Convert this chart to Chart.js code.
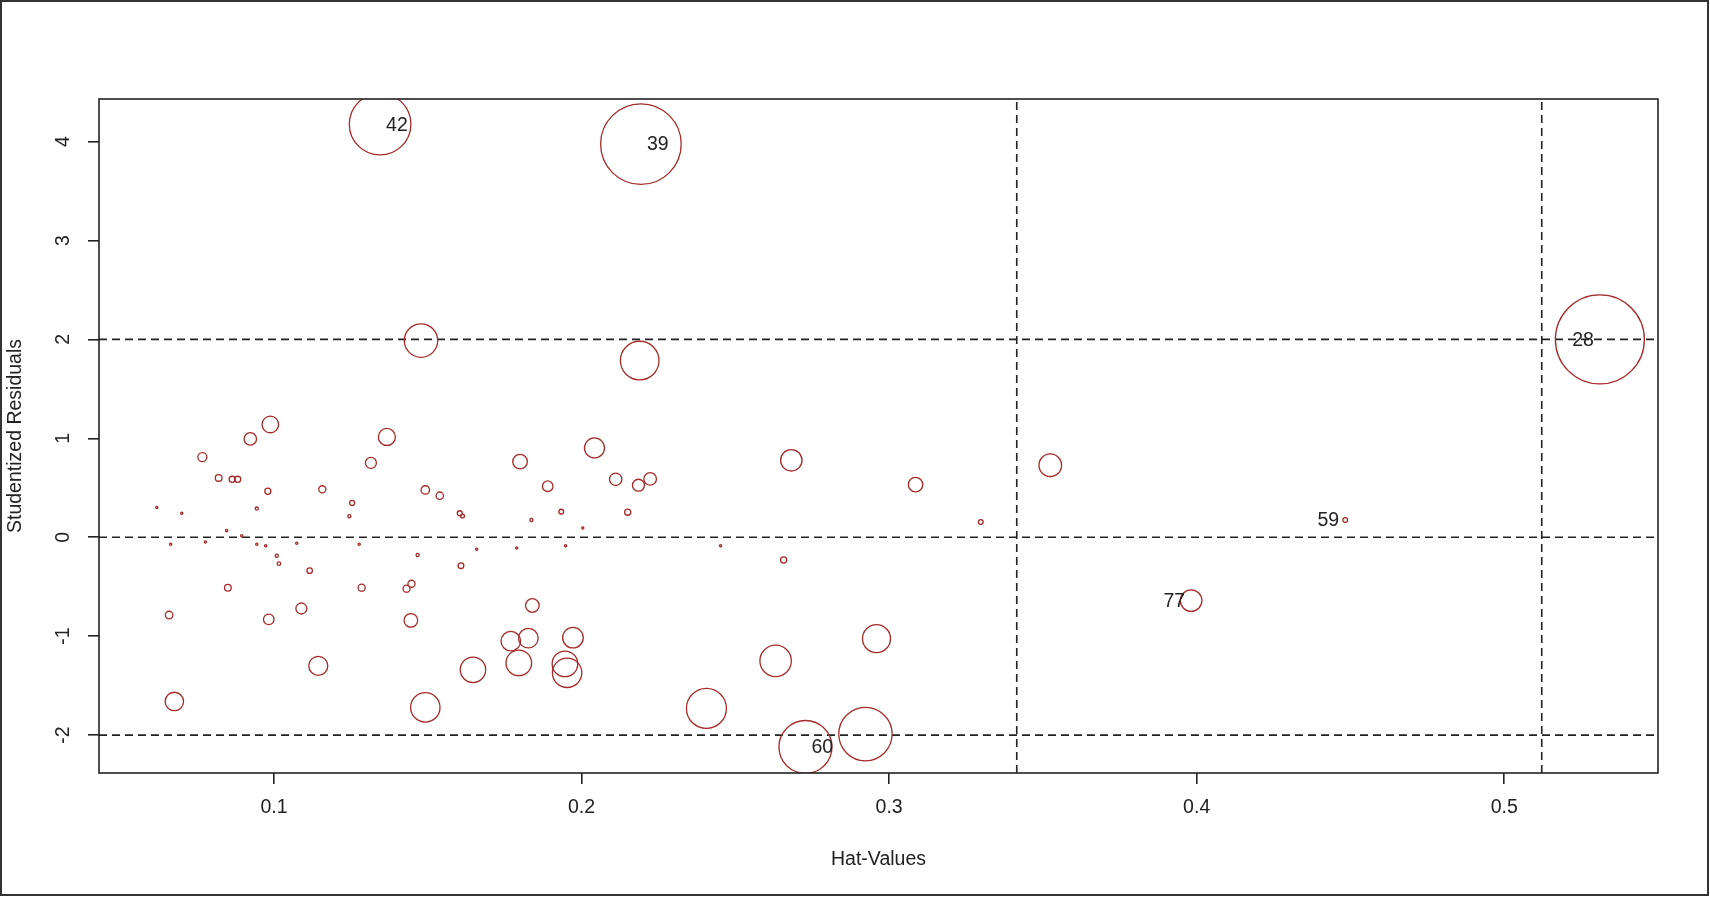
<!DOCTYPE html>
<html>
<head>
<meta charset="utf-8">
<title>Influence plot</title>
<script src="https://cdn.jsdelivr.net/npm/chart.js@4.4.1/dist/chart.umd.min.js"></script>
<style>
  html, body { margin: 0; padding: 0; background: #fff; }
  canvas { display: block; }
</style>
</head>
<body>
<canvas id="influencia" width="1710" height="897" style="width:1710px;height:897px"></canvas>
<script>
// ============================================================
// DATOS
// ============================================================

// hat-values de cada observación
const hatValues = [
  0.0619, 0.0700, 0.0767, 0.0820, 0.0864, 0.0882, 0.0923, 0.0988, 0.0980, 0.0944,
  0.0846, 0.0895, 0.0664, 0.0777, 0.0944, 0.0973, 0.1009, 0.1016, 0.1074, 0.1116,
  0.1157, 0.1254, 0.1245, 0.1277, 0.1315, 0.1367, 0.1467, 0.1492, 0.1539, 0.1604,
  0.1613, 0.1608, 0.1659, 0.1800, 0.1890, 0.1837, 0.1934, 0.1789, 0.1948, 0.2004,
  0.2042, 0.2111, 0.2150, 0.2185, 0.2223, 0.2452, 0.2682, 0.2657, 0.3086, 0.3298,
  0.0850, 0.0659, 0.0983, 0.1089, 0.1285, 0.1431, 0.1447, 0.1445, 0.1144, 0.0676,
  0.1492, 0.1647, 0.1840, 0.1770, 0.1827, 0.1796, 0.1946, 0.1953, 0.1972, 0.2406,
  0.2631, 0.2959, 0.2728, 0.2923, 0.1345, 0.2193, 0.1478, 0.2189, 0.5311, 0.3524,
  0.4483, 0.3982
];

// residuos estudentizados
const studResiduals = [
  0.300, 0.243, 0.810, 0.600, 0.586, 0.586, 0.994, 1.140, 0.465, 0.290,
  0.067, 0.016, -0.071, -0.048, -0.071, -0.085, -0.186, -0.267, -0.061, -0.338,
  0.485, 0.347, 0.212, -0.071, 0.751, 1.014, -0.179, 0.478, 0.420, 0.243,
  0.215, -0.287, -0.121, 0.764, 0.516, 0.175, 0.259, -0.108, -0.085, 0.094,
  0.903, 0.586, 0.253, 0.526, 0.590, -0.085, 0.778, -0.230, 0.532, 0.155,
  -0.510, -0.786, -0.830, -0.720, -0.510, -0.520, -0.470, -0.840, -1.300, -1.660,
  -1.720, -1.340, -0.690, -1.050, -1.020, -1.270, -1.280, -1.370, -1.015, -1.730,
  -1.250, -1.025, -2.120, -1.990, 4.176, 3.974, 1.988, 1.786, 2.000, 0.728,
  0.175, -0.640
];

// distancia de Cook (estimada a partir del tamaño de los círculos)
const cookD = [
  0.0002, 0.0002, 0.0033, 0.0018, 0.0015, 0.0015, 0.0062, 0.0111, 0.0015, 0.0004,
  0.0002, 0.0002, 0.0002, 0.0002, 0.0002, 0.0002, 0.0004, 0.0005, 0.0002, 0.0012,
  0.0020, 0.0010, 0.0004, 0.0002, 0.0049, 0.0117, 0.0004, 0.0029, 0.0022, 0.0010,
  0.0006, 0.0013, 0.0002, 0.0086, 0.0045, 0.0004, 0.0009, 0.0002, 0.0002, 0.0002,
  0.0162, 0.0062, 0.0015, 0.0058, 0.0064, 0.0002, 0.0185, 0.0015, 0.0084, 0.0009,
  0.0018, 0.0023, 0.0045, 0.0049, 0.0020, 0.0020, 0.0020, 0.0075, 0.0146, 0.0137,
  0.0349, 0.0261, 0.0075, 0.0155, 0.0155, 0.0265, 0.0265, 0.0349, 0.0171, 0.0646,
  0.0398, 0.0317, 0.1135, 0.1152, 0.1533, 0.2624, 0.0451, 0.0602, 0.3200, 0.0206,
  0.0009, 0.0188
];

// observaciones identificadas en la gráfica
const labelIndex = [74, 75, 78, 80, 81, 72];
const labelText = ['42', '39', '28', '59', '77', '60'];

// líneas de referencia: residuos ±2, 0 y 2·p/n, 3·p/n
const refResiduals = [-2, 0, 2];
const refHat = [0.3415, 0.5122];

// ticks de los ejes
const xTicks = [0.1, 0.2, 0.3, 0.4, 0.5];
const yTicks = [-2, -1, 0, 1, 2, 3, 4];

// rango de los ejes
const xRange = [0.0431, 0.5500];
const yRange = [-2.383, 4.430];

// ============================================================
// ESTILO
// ============================================================

const FONT = "'Liberation Sans', Arial, sans-serif";
const TEXT_COLOR = '#222';
const POINT_COLOR = '#a52a2a';
const MAX_RADIUS = 44.5;
const maxCook = Math.max(...cookD);

const puntos = hatValues.map((h, i) => ({
  x: h,
  y: studResiduals[i],
  r: MAX_RADIUS * Math.sqrt(cookD[i] / maxCook)
}));

// datasets de las líneas discontinuas
const lineasRef = [
  ...refResiduals.map(v => ({ a: { x: xRange[0], y: v }, b: { x: xRange[1], y: v } })),
  ...refHat.map(v => ({ a: { x: v, y: yRange[0] }, b: { x: v, y: yRange[1] } }))
].map(l => ({
  type: 'line',
  data: [l.a, l.b],
  borderColor: '#222',
  borderWidth: 1.6,
  borderDash: [8, 5],
  pointRadius: 0,
  fill: false,
  clip: 0
}));

// ============================================================
// PLUGIN: marco, caja del gráfico, etiquetas del eje y e IDs
// ============================================================

const decoracion = {
  id: 'decoracion',
  beforeDraw(chart) {
    const { ctx, width, height } = chart;
    ctx.save();
    ctx.fillStyle = '#fff';
    ctx.fillRect(0, 0, width, height);
    ctx.strokeStyle = '#333';
    ctx.lineWidth = 2;
    ctx.strokeRect(1, 1, width - 3, height - 3);
    ctx.restore();
  },
  afterDraw(chart) {
    const { ctx, chartArea: a, scales } = chart;
    ctx.save();
    ctx.strokeStyle = '#222';
    ctx.lineWidth = 1.6;
    ctx.strokeRect(a.left, a.top, a.right - a.left, a.bottom - a.top);

    // etiquetas del eje y, paralelas al eje (como en R)
    ctx.fillStyle = TEXT_COLOR;
    ctx.font = '19.5px ' + FONT;
    ctx.textAlign = 'center';
    ctx.textBaseline = 'middle';
    yTicks.forEach(v => {
      ctx.save();
      ctx.translate(64, scales.y.getPixelForValue(v));
      ctx.rotate(-Math.PI / 2);
      ctx.fillText(String(v), 0, 0);
      ctx.restore();
    });

    // identificadores de las observaciones influyentes
    const meta = chart.getDatasetMeta(0);
    const mitad = (xRange[0] + xRange[1]) / 2;
    labelIndex.forEach((idx, k) => {
      const el = meta.data[idx];
      const derecha = hatValues[idx] < mitad;
      ctx.textAlign = derecha ? 'left' : 'right';
      ctx.fillText(labelText[k], el.x + (derecha ? 6 : -6), el.y + 1);
    });
    ctx.restore();
  }
};

// ============================================================
// GRÁFICA
// ============================================================

new Chart(document.getElementById('influencia'), {
  type: 'bubble',
  data: {
    datasets: [{
      data: puntos,
      backgroundColor: 'rgba(0,0,0,0)',
      borderColor: POINT_COLOR,
      borderWidth: 1.3,
      hoverBorderWidth: 1.3,
      clip: 0
    }, ...lineasRef]
  },
  options: {
    responsive: false,
    devicePixelRatio: 1,
    animation: false,
    events: [],
    layout: { padding: { left: 0, top: 99, right: 52, bottom: 0 } },
    plugins: {
      legend: { display: false },
      tooltip: { enabled: false }
    },
    scales: {
      x: {
        type: 'linear',
        min: xRange[0],
        max: xRange[1],
        afterBuildTicks: s => { s.ticks = xTicks.map(value => ({ value })); },
        afterFit: s => { s.height = 124; },
        border: { display: false },
        grid: {
          drawOnChartArea: false,
          drawTicks: true,
          tickLength: 11,
          color: '#222',
          lineWidth: 1.6
        },
        ticks: {
          color: TEXT_COLOR,
          font: { size: 19.5, family: FONT },
          padding: 12,
          maxRotation: 0,
          callback: v => String(v)
        },
        title: {
          display: true,
          text: 'Hat-Values',
          color: TEXT_COLOR,
          font: { size: 19.5, family: FONT },
          padding: { top: 0, bottom: 26 }
        }
      },
      y: {
        type: 'linear',
        min: yRange[0],
        max: yRange[1],
        afterBuildTicks: s => { s.ticks = yTicks.map(value => ({ value })); },
        afterFit: s => { s.width = 99; },
        border: { display: false },
        grid: {
          drawOnChartArea: false,
          drawTicks: true,
          tickLength: 11,
          color: '#222',
          lineWidth: 1.6
        },
        ticks: { display: false },
        title: {
          display: true,
          text: 'Studentized Residuals',
          color: TEXT_COLOR,
          font: { size: 19.5, family: FONT },
          padding: { top: 4, bottom: 0 }
        }
      }
    }
  },
  plugins: [decoracion]
});
</script>
</body>
</html>
